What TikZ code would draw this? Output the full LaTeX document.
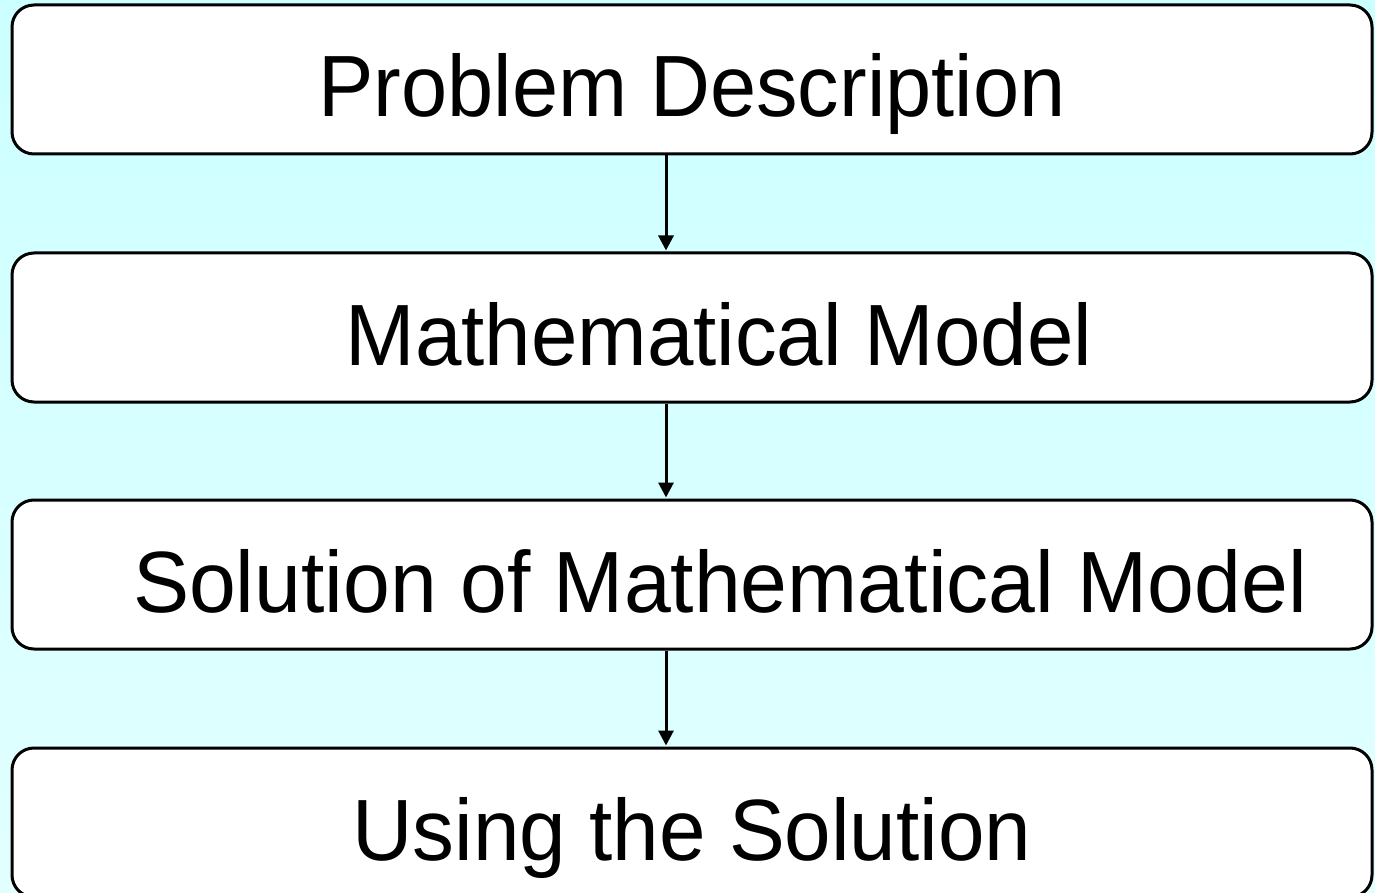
\documentclass[tikz,border=0pt]{standalone}
\usepackage{fontspec}
\usepackage{graphicx}
\setmainfont{Liberation Sans}
\usetikzlibrary{arrows.meta,calc}
\definecolor{bgtop}{RGB}{204,255,255}
\definecolor{bgbot}{RGB}{226,255,255}
\newsavebox\fitbox
\newcommand\fittext[3]{% #1 target width (pt), #2 shift (pt), #3 text
  \sbox\fitbox{#3}%
  \pgfmathsetmacro\fitfac{#1/\the\wd\fitbox*1pt}%
  \hspace*{#2pt}\scalebox{\fitfac}[1]{\usebox\fitbox}}
\begin{document}
\begin{tikzpicture}[x=1pt,y=-1pt,
  stepbox/.style={draw=black, line width=3pt, fill=white, rounded corners=22pt,
    minimum width=1360pt, minimum height=149pt, inner sep=0pt,
    text height=75pt, text depth=0pt, font=\fontsize{87pt}{90pt}\selectfont},
  flow/.style={draw=black, line width=3pt, -{Triangle[length=15pt,width=15pt]}, shorten >=1pt}]
\shade[top color=bgtop, bottom color=bgbot] (0,0) rectangle (1375,893);
\useasboundingbox (0,0) rectangle (1375,893);
\node[stepbox] (p) at (692,79.5) {\fittext{747}{0}{Problem Description}};
\node[stepbox] (m) at (692,327.5) {\fittext{747}{54}{Mathematical Model}};
\node[stepbox] (s) at (692,574.5) {\fittext{1174}{56}{Solution of Mathematical Model}};
\node[stepbox] (u) at (692,822.5) {\fittext{679}{0}{Using the Solution}};
\draw[flow] ([xshift=-26pt]p.south) -- ([xshift=-26pt]m.north);
\draw[flow] ([xshift=-26pt]m.south) -- ([xshift=-26pt]s.north);
\draw[flow] ([xshift=-26pt]s.south) -- ([xshift=-26pt]u.north);
\end{tikzpicture}
\end{document}
